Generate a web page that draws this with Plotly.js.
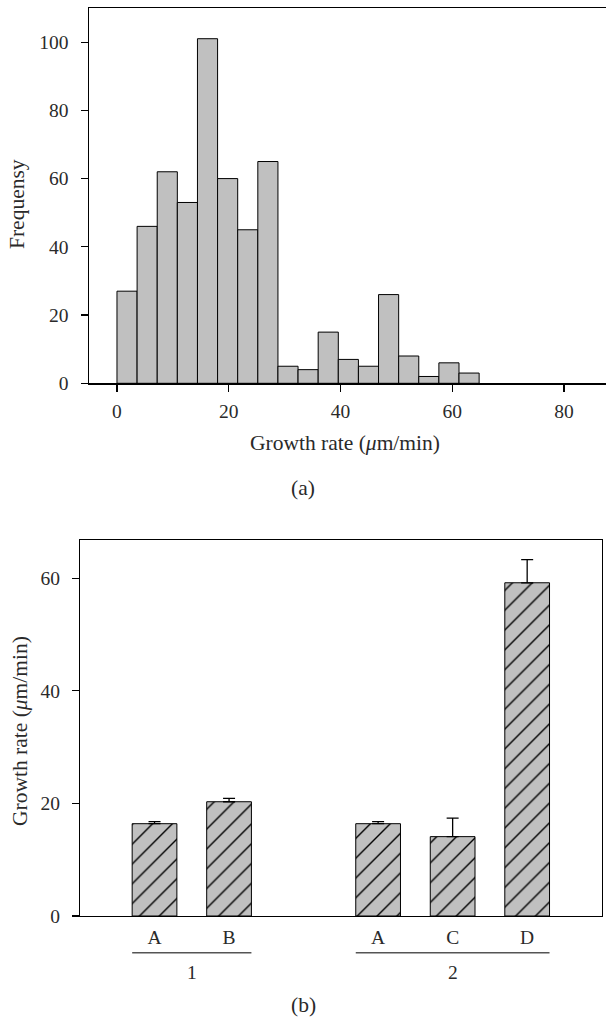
<!DOCTYPE html>
<html>
<head>
<meta charset="utf-8">
<script src="https://cdn.plot.ly/plotly-3.0.1.min.js"></script>
<style>html,body{margin:0;padding:0;background:#fff;}#chart{width:606px;height:1018px;}</style>
</head>
<body>
<div id="chart"></div>
<script>
// ---- Panel (a): histogram of growth rate ----
var binCenters = [1.8, 5.4, 9.0, 12.6, 16.2, 19.8, 23.4, 27.0, 30.6, 34.2, 37.8, 41.4, 45.0, 48.6, 52.2, 55.8, 59.4, 63.0];
var binWidth = 3.6;
var frequencies = [27, 46, 62, 53, 101, 60, 45, 65, 5, 4, 15, 7, 5, 26, 8, 2, 6, 3];
var xTicksA = [0, 20, 40, 60, 80];
var yTicksA = [0, 20, 40, 60, 80, 100];

// ---- Panel (b): mean growth rate per condition ----
var barPositions = [0, 1, 3, 4, 5];
var barLabels = ["A", "B", "A", "C", "D"];
var growthRates = [16.4, 20.3, 16.4, 14.1, 59.2];
var growthErrors = [0.35, 0.6, 0.35, 3.3, 4.1];
var groupNames = ["1", "2"];
var groupMembers = [[0, 1], [3, 4, 5]];
var yTicksB = [0, 20, 40, 60];

var W = 606, H = 1018;
function px(x) { return x / W; }
function py(y) { return 1 - y / H; }

var serif = "Liberation Serif, Times New Roman, serif";
var txt = "#2a2a2a";
var barW = 0.6;
var titleSize = 21.5, tickSize = 19.5;

var traces = [
  {
    type: "bar", x: binCenters, y: frequencies,
    width: frequencies.map(function () { return binWidth; }),
    marker: { color: "#c0c0c0", line: { color: "#000", width: 1 } },
    xaxis: "x", yaxis: "y", hoverinfo: "x+y"
  },
  {
    type: "bar", x: barPositions, y: growthRates, width: barW,
    marker: {
      color: "#c0c0c0",
      line: { color: "#000", width: 1 },
      pattern: { shape: "/", fgcolor: "#000", bgcolor: "#c0c0c0", size: 14, solidity: 0.1 }
    },
    error_y: {
      type: "data", symmetric: false, array: growthErrors,
      arrayminus: growthErrors.map(function () { return 0; }),
      color: "#000", thickness: 1.3, width: 6
    },
    xaxis: "x2", yaxis: "y2"
  }
];

var annotations = [
  { text: "Frequensy", xref: "paper", yref: "paper", x: px(17), y: py(204), textangle: -90, showarrow: false, font: { family: serif, size: titleSize, color: txt }, xanchor: "center", yanchor: "middle" },
  { text: "Growth rate (<i>μ</i>m/min)", xref: "paper", yref: "paper", x: px(345), y: py(443), showarrow: false, font: { family: serif, size: titleSize, color: txt }, xanchor: "center", yanchor: "middle" },
  { text: "(a)", xref: "paper", yref: "paper", x: px(303), y: py(488), showarrow: false, font: { family: serif, size: titleSize, color: txt }, xanchor: "center", yanchor: "middle" },
  { text: "Growth rate (<i>μ</i>m/min)", xref: "paper", yref: "paper", x: px(20), y: py(731), textangle: -90, showarrow: false, font: { family: serif, size: titleSize, color: txt }, xanchor: "center", yanchor: "middle" },
  { text: "(b)", xref: "paper", yref: "paper", x: px(303), y: py(1005), showarrow: false, font: { family: serif, size: titleSize, color: txt }, xanchor: "center", yanchor: "middle" }
];
var shapes = [];
groupNames.forEach(function (g, i) {
  var m = groupMembers[i];
  var x0 = m[0] - barW / 2, x1 = m[m.length - 1] + barW / 2;
  shapes.push({ type: "line", xref: "x2", yref: "paper", x0: x0, x1: x1, y0: py(952.7), y1: py(952.7), line: { color: "#555", width: 1.6 } });
  annotations.push({ text: g, xref: "x2", yref: "paper", x: (m[0] + m[m.length - 1]) / 2, y: py(972), showarrow: false, font: { family: serif, size: tickSize, color: txt }, xanchor: "center", yanchor: "middle" });
});

var axisCommon = { showline: true, linecolor: "#000", linewidth: 1.2, mirror: true, showgrid: false, zeroline: false, tickfont: { family: serif, size: tickSize, color: txt } };

var layout = {
  width: W, height: H,
  margin: { l: 0, r: 0, t: 0, b: 0 },
  paper_bgcolor: "#fff", plot_bgcolor: "#fff",
  showlegend: false, bargap: 0,
  xaxis: Object.assign({}, axisCommon, {
    domain: [px(88.7), 1], range: [-5.06, 87.5], anchor: "y",
    tickvals: xTicksA, ticktext: xTicksA.map(String), ticks: "outside", ticklen: 7.5, tickcolor: "#000", tickwidth: 1.2, ticklabelstandoff: 3
  }),
  yaxis: Object.assign({}, axisCommon, {
    domain: [py(383.3), py(8)], range: [0, 110], anchor: "x",
    tickvals: yTicksA, ticktext: yTicksA.map(String), ticks: "outside", ticklen: 7, tickcolor: "#000", tickwidth: 1.2, ticklabelstandoff: 8
  }),
  xaxis2: Object.assign({}, axisCommon, {
    domain: [px(80), px(601.7)], range: [-1, 6], anchor: "y2",
    tickvals: barPositions, ticktext: barLabels, ticks: "", ticklabelstandoff: 3
  }),
  yaxis2: Object.assign({}, axisCommon, {
    domain: [py(916), py(540)], range: [0, 66.8], anchor: "x2",
    tickvals: yTicksB, ticktext: yTicksB.map(String), ticks: "outside", ticklen: 7, tickcolor: "#000", tickwidth: 1.2, ticklabelstandoff: 8
  }),
  annotations: annotations,
  shapes: shapes
};

Plotly.newPlot("chart", traces, layout, { displayModeBar: false, staticPlot: true });
</script>
</body>
</html>
